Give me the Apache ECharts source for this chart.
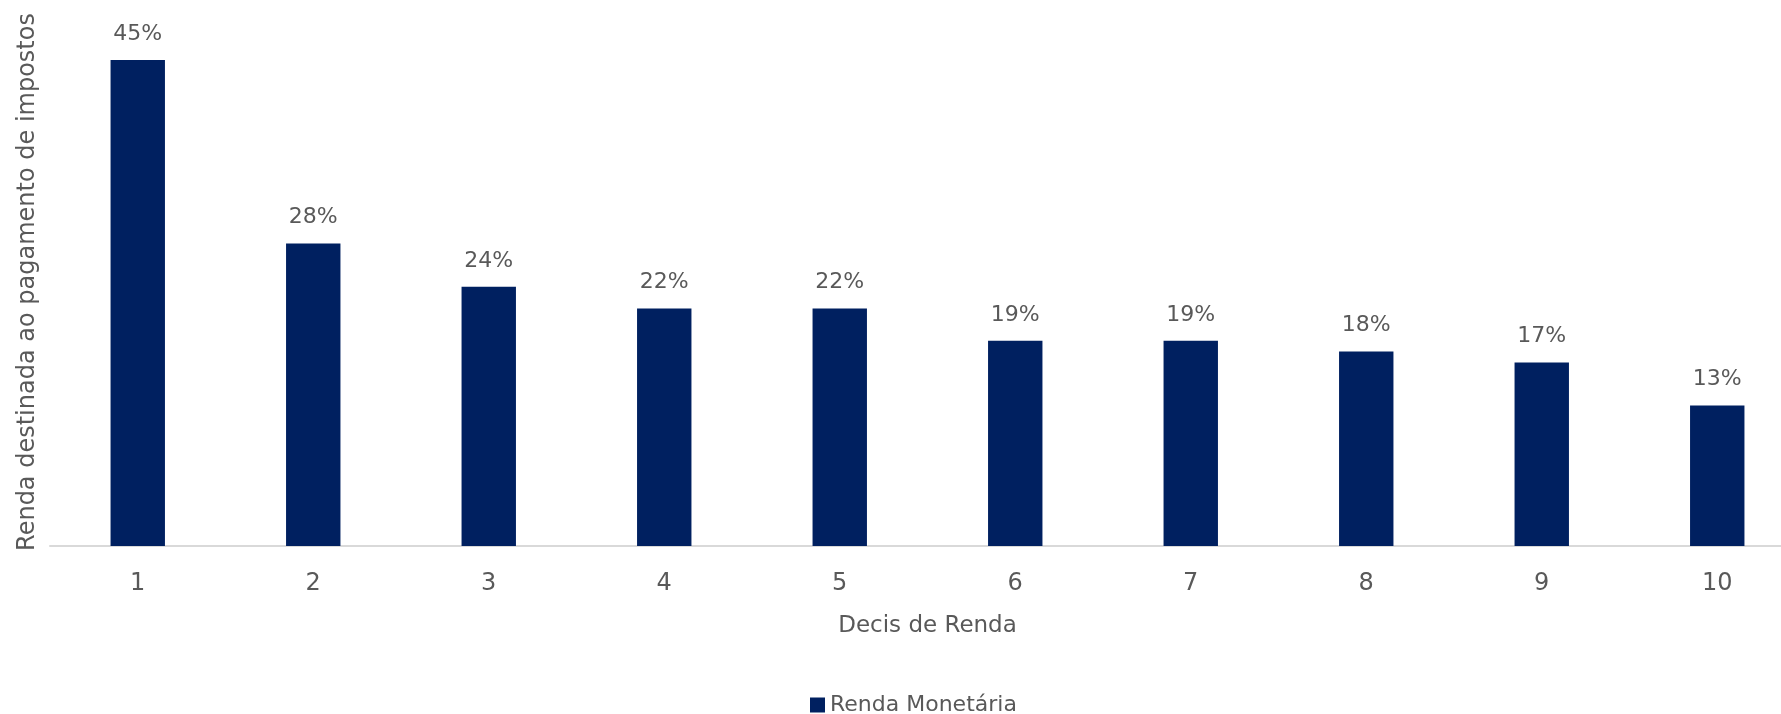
<!DOCTYPE html>
<html>
<head>
<meta charset="utf-8">
<script src="https://cdn.jsdelivr.net/npm/echarts@6/dist/echarts.min.js"></script>
<style>
  html, body { margin: 0; padding: 0; background: #ffffff; }
  #chart { width: 1781px; height: 714px; }
</style>
</head>
<body>
<div id="chart"></div>
<script>
// Income deciles and share of income spent on taxes (%)
const decis = ['1', '2', '3', '4', '5', '6', '7', '8', '9', '10'];
const rendaMonetaria = [45, 28, 24, 22, 22, 19, 19, 18, 17, 13];
const seriesName = 'Renda Monetária';
const xAxisTitle = 'Decis de Renda';
const yAxisTitle = 'Renda destinada ao pagamento de impostos';

const FONT = '"DejaVu Sans", sans-serif';
const TEXT = '#595959';

const chart = echarts.init(document.getElementById('chart'), null, { renderer: 'canvas' });

chart.setOption({
  backgroundColor: '#ffffff',
  animation: false,
  textStyle: { fontFamily: FONT, color: TEXT },
  grid: {
    left: 50, top: 6, width: 1755, height: 540,
    containLabel: false,
    outerBoundsMode: 'none'
  },
  legend: {
    data: [seriesName],
    left: 805,
    top: 689,
    icon: 'rect',
    itemWidth: 15,
    itemHeight: 15,
    textStyle: { fontFamily: FONT, fontSize: 22, color: TEXT }
  },
  xAxis: {
    type: 'category',
    data: decis,
    name: xAxisTitle,
    nameLocation: 'middle',
    nameGap: 69,
    nameTextStyle: { fontFamily: FONT, fontSize: 23, color: TEXT },
    axisLine: { lineStyle: { color: '#d9d9d9', width: 2 } },
    axisTick: { show: false },
    axisLabel: { fontFamily: FONT, fontSize: 24, color: TEXT, margin: 26 }
  },
  yAxis: {
    type: 'value',
    min: 0,
    max: 50,
    name: yAxisTitle,
    nameLocation: 'middle',
    nameGap: 10,
    nameTextStyle: { fontFamily: FONT, fontSize: 24, color: TEXT, padding: [0, 12, 0, 0] },
    axisLine: { show: false },
    axisTick: { show: false },
    axisLabel: { show: false },
    splitLine: { show: false }
  },
  series: [{
    name: seriesName,
    type: 'bar',
    data: rendaMonetaria,
    barWidth: '31%',
    itemStyle: { color: '#002060' },
    label: {
      show: true,
      position: 'top',
      distance: 15,
      formatter: p => p.value + '%',
      fontFamily: FONT,
      fontSize: 22,
      color: TEXT
    }
  }]
});
</script>
</body>
</html>
